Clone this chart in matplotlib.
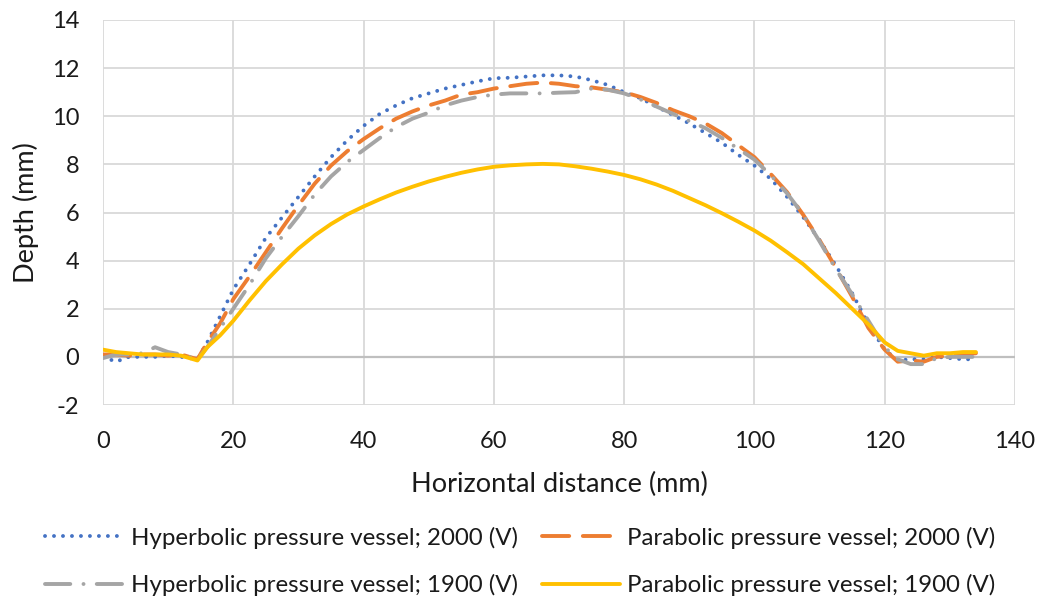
import matplotlib.pyplot as plt

plt.rcParams['font.family'] = ['Lato', 'DejaVu Sans']
plt.rcParams['axes.unicode_minus'] = False

# horizontal distance (mm), shared by all four series
x_mm = [0, 2, 4, 6, 8, 10, 12, 14.5, 16, 18, 20,
        22.5, 25, 27.5, 30, 32.5, 35, 37.5, 40, 42.5, 45, 47.5, 50, 52.5, 55, 57.5,
        60, 62.5, 65, 67.5, 70, 72.5, 75, 77.5, 80, 82.5, 85, 87.5, 90, 92.5, 95, 97.5,
        100, 102.5, 105, 107.5, 110, 112.5, 115, 117.5,
        120, 122, 124, 126, 128, 130, 132, 134]

hyp_2000 = [0.0, -0.2, 0.0, 0.0, 0.0, 0.05, 0.0, -0.1, 0.6, 1.7, 2.8,
            3.85, 4.95, 5.8, 6.65, 7.5, 8.3, 9.0, 9.6, 10.1, 10.45, 10.75, 10.95, 11.15, 11.3, 11.45,
            11.58, 11.6, 11.65, 11.7, 11.7, 11.65, 11.5, 11.3, 11.0, 10.75, 10.4, 10.05, 9.7, 9.3, 8.9, 8.4,
            7.95, 7.4, 6.65, 5.8, 4.85, 3.8, 2.65, 1.35,
            0.3, -0.15, -0.1, -0.1, 0.0, -0.05, -0.1, -0.1]

par_2000 = [0.1, 0.1, 0.05, 0.1, 0.1, 0.05, 0.1, -0.1, 0.6, 1.4, 2.4,
            3.35, 4.35, 5.35, 6.3, 7.2, 7.95, 8.55, 9.05, 9.5, 9.9, 10.2, 10.45, 10.65, 10.9, 11.0,
            11.15, 11.25, 11.35, 11.4, 11.35, 11.25, 11.2, 11.1, 11.0, 10.8, 10.55, 10.25, 10.0, 9.7, 9.3, 8.8,
            8.3, 7.6, 6.85, 5.9, 4.85, 3.7, 2.5, 1.2,
            0.3, -0.2, -0.15, -0.2, 0.0, 0.05, 0.1, 0.15]

hyp_1900 = [-0.05, 0.1, 0.1, 0.15, 0.4, 0.2, 0.1, -0.1, 0.4, 1.2, 2.0,
            3.0, 4.1, 5.0, 5.85, 6.75, 7.5, 8.1, 8.6, 9.1, 9.55, 9.9, 10.15, 10.45, 10.65, 10.8,
            10.9, 10.95, 10.95, 10.95, 10.98, 11.0, 11.15, 11.1, 10.95, 10.7, 10.4, 10.1, 9.8, 9.5, 9.1, 8.65,
            8.2, 7.55, 6.8, 5.9, 4.8, 3.65, 2.6, 1.5,
            0.4, -0.1, -0.3, -0.3, -0.05, 0.0, 0.0, 0.0]

par_1900 = [0.3, 0.2, 0.15, 0.1, 0.1, 0.1, 0.05, -0.15, 0.4, 0.9, 1.5,
            2.35, 3.15, 3.85, 4.5, 5.05, 5.52, 5.92, 6.25, 6.55, 6.83, 7.07, 7.29, 7.48, 7.65, 7.79,
            7.9, 7.96, 8.0, 8.02, 8.0, 7.92, 7.82, 7.7, 7.56, 7.38, 7.16, 6.9, 6.6, 6.3, 5.97, 5.62,
            5.25, 4.83, 4.35, 3.85, 3.25, 2.65, 2.0, 1.35,
            0.6, 0.25, 0.15, 0.05, 0.15, 0.15, 0.2, 0.2]

fig = plt.figure(figsize=(10.53, 5.97), dpi=100)
ax = fig.add_axes([103 / 1053, 1 - 405 / 597, 912 / 1053, 385 / 597])

lw = 2.8
h1, = ax.plot(x_mm, hyp_2000, color='#4472C4', lw=lw, dashes=(0.01, 2.3), dash_capstyle='round',
              label='Hyperbolic pressure vessel; 2000 (V)')
h2, = ax.plot(x_mm, par_2000, color='#ED7D31', lw=lw, dashes=(7, 3.5), dash_capstyle='round',
              label='Parabolic pressure vessel; 2000 (V)')
h3, = ax.plot(x_mm, hyp_1900, color='#A5A5A5', lw=lw, dashes=(6.5, 3.4, 0.01, 3.4), dash_capstyle='round',
              label='Hyperbolic pressure vessel; 1900 (V)')
h4, = ax.plot(x_mm, par_1900, color='#FFC000', lw=lw, solid_capstyle='round',
              label='Parabolic pressure vessel; 1900 (V)')

ax.set_xlim(0, 140)
ax.set_ylim(-2, 14)
ax.set_xticks(range(0, 141, 20))
ax.set_yticks(range(-2, 15, 2))
ax.grid(True, color='#D9D9D9', lw=1.3)
ax.axhline(0, color='#BFBFBF', lw=1.6, zorder=1)
ax.set_axisbelow(True)
for s in ax.spines.values():
    s.set_visible(False)
ax.tick_params(length=0, labelsize=17, colors='#1a1a1a')
ax.tick_params(axis='x', pad=19)
ax.tick_params(axis='y', pad=17)

ax.set_xlabel('Horizontal distance (mm)', fontsize=19.5, color='#1a1a1a', labelpad=14)
ax.set_ylabel('Depth (mm)', fontsize=19.5, color='#1a1a1a', labelpad=9)

# row-major order like the original legend
handles = [h1, h3, h2, h4]
fig.legend(handles=handles, labels=[h.get_label() for h in handles],
           loc='upper center', bbox_to_anchor=(0.494, 1 - 505 / 597), ncol=2, frameon=False,
           fontsize=17.3, handlelength=3.25, handletextpad=0.3, columnspacing=1.0,
           labelspacing=1.05, labelcolor='#1a1a1a')

fig.savefig('out.png', dpi=100)
